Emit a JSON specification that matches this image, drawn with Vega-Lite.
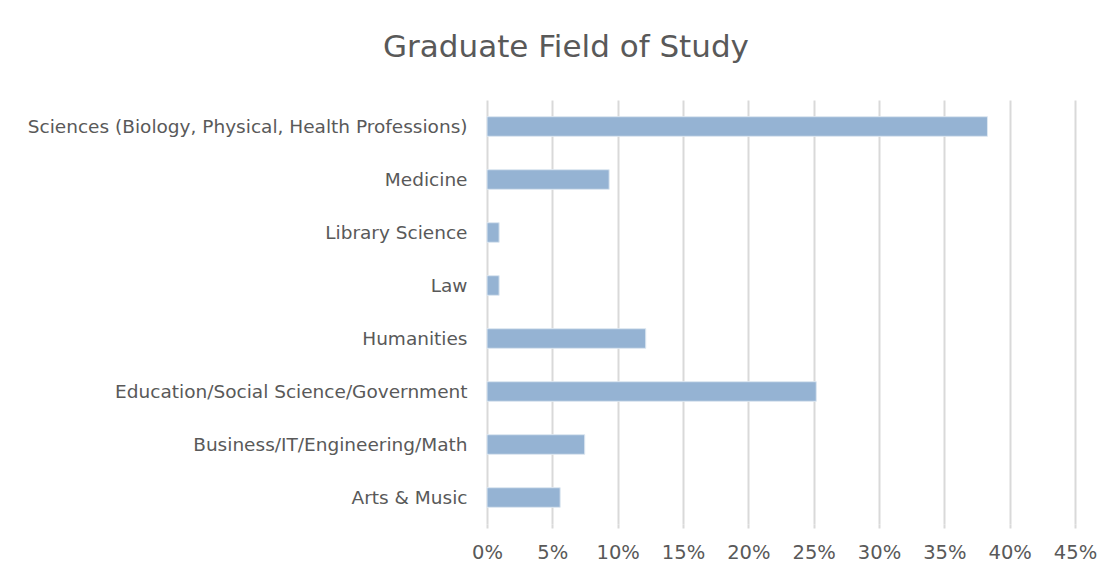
{
  "$schema": "https://vega.github.io/schema/vega-lite/v6.json",
  "autosize": "none",
  "width": 588,
  "height": 424,
  "padding": {"left": 487, "top": 100, "right": 42, "bottom": 53},
  "background": "white",
  "title": {
    "text": "Graduate Field of Study",
    "font": "DejaVu Sans",
    "fontSize": 31,
    "fontWeight": "normal",
    "color": "#595959",
    "anchor": "middle",
    "frame": "group",
    "dx": -215,
    "offset": 36
  },
  "data": {
    "values": [
      {"field": "Sciences (Biology, Physical, Health Professions)", "share": 0.383},
      {"field": "Medicine", "share": 0.0935},
      {"field": "Library Science", "share": 0.0093},
      {"field": "Law", "share": 0.0093},
      {"field": "Humanities", "share": 0.1215},
      {"field": "Education/Social Science/Government", "share": 0.252},
      {"field": "Business/IT/Engineering/Math", "share": 0.0748},
      {"field": "Arts & Music", "share": 0.056}
    ]
  },
  "mark": {"type": "bar", "color": "#95b3d3", "stroke": "#dde7f1", "strokeWidth": 1},
  "encoding": {
    "y": {
      "field": "field",
      "type": "nominal",
      "sort": null,
      "scale": {"paddingInner": 0.63, "paddingOuter": 0.315},
      "axis": {
        "title": null,
        "domain": false,
        "ticks": false,
        "labelPadding": 20,
        "labelFont": "DejaVu Sans",
        "labelFontSize": 18.5,
        "labelColor": "#595959",
        "labelLimit": 600
      }
    },
    "x": {
      "field": "share",
      "type": "quantitative",
      "scale": {"domain": [0, 0.45], "nice": false},
      "axis": {
        "title": null,
        "values": [0, 0.05, 0.1, 0.15, 0.2, 0.25, 0.3, 0.35, 0.4, 0.45],
        "format": ".0%",
        "domain": false,
        "grid": true,
        "gridColor": "#d9d9d9",
        "gridWidth": 2,
        "ticks": true,
        "tickColor": "#d9d9d9",
        "tickWidth": 2,
        "tickSize": 4,
        "labelFlush": false,
        "labelPadding": 15,
        "labelFont": "DejaVu Sans",
        "labelFontSize": 19.5,
        "labelColor": "#595959"
      }
    }
  },
  "config": {"view": {"stroke": null}}
}
